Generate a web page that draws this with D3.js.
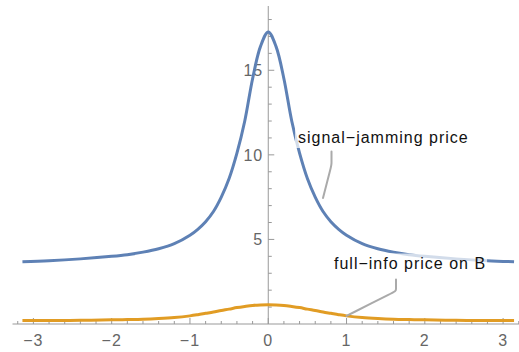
<!DOCTYPE html>
<html>
<head>
<meta charset="utf-8">
<script src="https://cdn.jsdelivr.net/npm/d3@7"></script>
<style>
  html, body { margin: 0; padding: 0; background: #fff; }
  svg { display: block; font-family: "Liberation Sans", Arial, sans-serif; }
</style>
</head>
<body>
<svg id="chart" width="519" height="352"></svg>
<script>
// Sample positions along the horizontal axis
const xs = [-3.14, -2.8, -2.4, -2.0, -1.8, -1.6, -1.4, -1.2, -1.0, -0.9, -0.8, -0.7, -0.6, -0.5, -0.4, -0.3, -0.2, -0.1,
            0, 0.1, 0.2, 0.3, 0.4, 0.5, 0.6, 0.7, 0.8, 0.9, 1.0, 1.2, 1.4, 1.6, 1.8, 2.0, 2.4, 2.8, 3.14];

// Signal-jamming price
const jamming = [3.68, 3.74, 3.85, 4.0, 4.1, 4.25, 4.45, 4.75, 5.25, 5.6, 6.05, 6.65, 7.5, 8.6, 10.1, 12.0, 14.5, 16.4,
                 17.27, 16.4, 14.5, 12.0, 10.1, 8.6, 7.5, 6.65, 6.05, 5.6, 5.25, 4.75, 4.45, 4.25, 4.1, 4.0, 3.85, 3.74, 3.68];

// Full-info price on B
const fullInfo = [0.2, 0.205, 0.22, 0.245, 0.26, 0.28, 0.32, 0.38, 0.48, 0.55, 0.63, 0.71, 0.8, 0.88, 0.97, 1.04, 1.1, 1.13,
                  1.14, 1.13, 1.1, 1.04, 0.97, 0.88, 0.8, 0.71, 0.63, 0.55, 0.48, 0.38, 0.32, 0.28, 0.26, 0.245, 0.22, 0.205, 0.2];

const xMajor = [-3, -2, -1, 0, 1, 2, 3];
const yMajor = [5, 10, 15];

const svg = d3.select("#chart");

const x = d3.scaleLinear().domain([-3.267, 3.267]).range([12.5, 524]);
const y = d3.scaleLinear().domain([0, 18.8]).range([324, 6]);

const axisColor = "#999";
const labelColor = "#666";

// Axes through the origin
const axes = svg.append("g");
axes.append("line")
  .attr("x1", x.range()[0]).attr("x2", 519)
  .attr("y1", y(0)).attr("y2", y(0))
  .attr("stroke", axisColor).attr("stroke-width", 1);
axes.append("line")
  .attr("x1", x(0)).attr("x2", x(0))
  .attr("y1", y(0)).attr("y2", y.range()[1])
  .attr("stroke", axisColor).attr("stroke-width", 1);

// Horizontal ticks: majors at integers, minors every 0.2
const xMinor = d3.range(-16, 17).map(i => i / 5).filter(v => Math.abs(v - Math.round(v)) > 1e-6);
axes.selectAll(".xminor").data(xMinor).join("line")
  .attr("x1", d => x(d)).attr("x2", d => x(d))
  .attr("y1", y(0)).attr("y2", y(0) - 3)
  .attr("stroke", axisColor);
axes.selectAll(".xmajor").data(xMajor).join("line")
  .attr("x1", d => x(d)).attr("x2", d => x(d))
  .attr("y1", y(0)).attr("y2", y(0) - 6)
  .attr("stroke", axisColor);
axes.selectAll(".xlab").data(xMajor).join("text")
  .attr("x", d => x(d)).attr("y", 346)
  .attr("text-anchor", "middle")
  .attr("fill", labelColor).attr("font-size", 16).attr("letter-spacing", 1)
  .text(d => d < 0 ? "\u2212" + Math.abs(d) : String(d));

// Vertical ticks: majors every 5, minors every 1
const yMinor = d3.range(1, 19).filter(v => v % 5 !== 0);
axes.selectAll(".yminor").data(yMinor).join("line")
  .attr("x1", x(0)).attr("x2", x(0) + 3.5)
  .attr("y1", d => y(d)).attr("y2", d => y(d))
  .attr("stroke", axisColor);
axes.selectAll(".ymajor").data(yMajor).join("line")
  .attr("x1", x(0)).attr("x2", x(0) + 6)
  .attr("y1", d => y(d)).attr("y2", d => y(d))
  .attr("stroke", axisColor);
axes.selectAll(".ylab").data(yMajor).join("text")
  .attr("x", x(0) - 5).attr("y", d => y(d))
  .attr("dy", "0.36em")
  .attr("text-anchor", "end")
  .attr("fill", labelColor).attr("font-size", 16).attr("letter-spacing", 1)
  .text(d => d);

// Curves
const line = d3.line().x(d => x(d[0])).y(d => y(d[1])).curve(d3.curveCatmullRom.alpha(0.5));
const series = [
  { values: jamming, color: "#5E81B5" },
  { values: fullInfo, color: "#E19C24" }
];
svg.selectAll(".curve").data(series).join("path")
  .attr("fill", "none")
  .attr("stroke", d => d.color)
  .attr("stroke-width", 3)
  .attr("stroke-linejoin", "round")
  .attr("d", d => line(xs.map((v, i) => [v, d.values[i]])));

// Callout labels with leader lines
const callouts = [
  { text: "signal\u2212jamming price", tx: 298, ty: 143,
    leader: [[331.5, 151.5], [331.5, 165], [323, 198]] },
  { text: "full\u2212info price on B", tx: 334, ty: 268.5,
    leader: [[396, 279.5], [396, 291], [x(1), y(fullInfo[xs.indexOf(1.0)])]] }
];

const cg = svg.append("g");
callouts.forEach(c => {
  const g = cg.append("g");
  const rect = g.append("rect").attr("fill", "#fff").attr("fill-opacity", 0.72);
  const t = g.append("text")
    .attr("x", c.tx).attr("y", c.ty)
    .attr("font-size", 16).attr("letter-spacing", 1)
    .attr("fill", "#111")
    .text(c.text);
  const bb = t.node().getBBox();
  rect.attr("x", bb.x - 3).attr("y", bb.y - 1)
    .attr("width", bb.width + 4).attr("height", bb.height + 3);
  g.append("path")
    .attr("d", d3.line().curve(d3.curveBasis)([c.leader[0], c.leader[1], c.leader[1], c.leader[2]]))
    .attr("fill", "none")
    .attr("stroke", "#aaa")
    .attr("stroke-width", 2)
    .attr("stroke-linecap", "round");
});
</script>
</body>
</html>
